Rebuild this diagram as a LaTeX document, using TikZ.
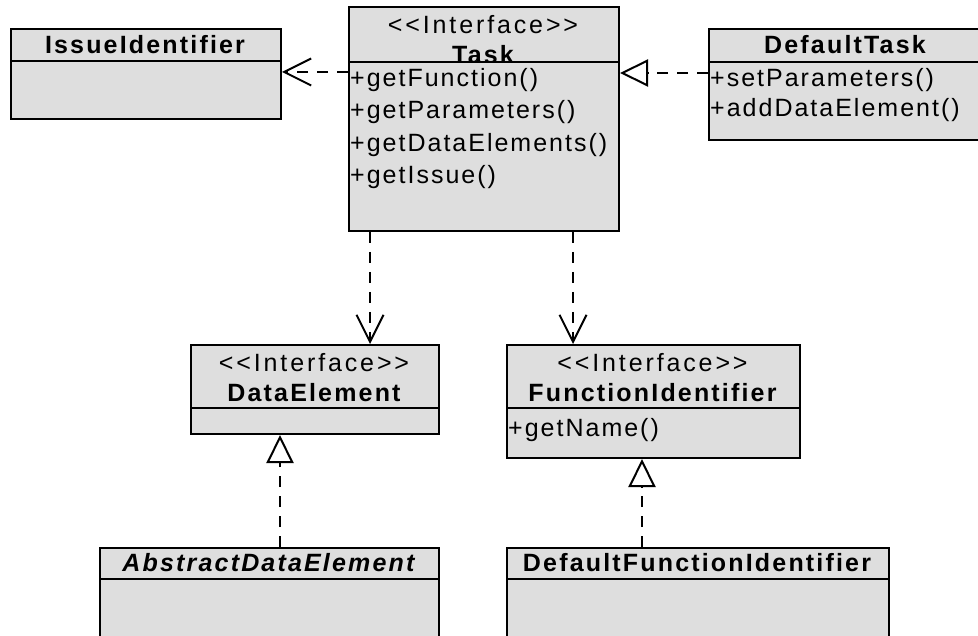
\documentclass[tikz,border=0pt]{standalone}
\usepackage{fontspec}
\newfontfamily\umlfont{Liberation Sans}[LetterSpace=8]
\newfontfamily\umlbold{Liberation Sans}[LetterSpace=8.7]
\newfontfamily\umlster{Liberation Sans}[LetterSpace=11.5]
\usetikzlibrary{arrows.meta}
\definecolor{boxfill}{RGB}{222,222,222}
\tikzset{
 box/.style={draw=black, fill=boxfill, line width=2pt, inner sep=0pt, anchor=north west, rectangle},
 txt/.style={inner sep=0pt, font=\umlfont\fontsize{25}{29}\selectfont},
 ster/.style={inner sep=0pt, font=\umlster\fontsize{25}{29}\selectfont},
 meth/.style={txt, anchor=west},
 ttl/.style={inner sep=0pt, font=\umlbold\bfseries\fontsize{25}{29}\selectfont},
 ittl/.style={inner sep=0pt, font=\umlbold\bfseries\itshape\fontsize{25}{29}\selectfont},
 dep/.style={line width=2pt, dash pattern=on 11pt off 9pt, -{Straight Barb[length=27pt,width=27pt]}},
 real/.style={line width=2pt, dash pattern=on 11pt off 9pt, -{Triangle[open,length=28pt,width=27pt]}},
}
\begin{document}
\begin{tikzpicture}[x=1pt,y=-1pt]
\clip (0,0) rectangle (978,636);
\fill[white] (0,0) rectangle (978,636);
% IssueIdentifier
\node[box, minimum width=270pt, minimum height=32pt] (issueH) at (10,28) {};
\node[ttl] (issueT) at (145,45) {IssueIdentifier};
\node[box, minimum width=270pt, minimum height=58pt] (issueB) at (10,60) {};
% Task
\node[box, minimum width=270pt, minimum height=55pt] (taskH) at (348,6) {};
\node[ster] (taskS) at (483,25) {<<Interface>>};
\node[ttl] (taskT) at (483,55) {Task};
\node[box, minimum width=270pt, minimum height=169pt] (taskB) at (348,61) {};
\node[meth] (tm1) at (350,80) {+getFunction()};
\node[meth] (tm2) at (350,112.5) {+getParameters()};
\node[meth] (tm3) at (350,145) {+getDataElements()};
\node[meth] (tm4) at (350,177) {+getIssue()};
% DefaultTask
\node[box, minimum width=274pt, minimum height=33pt] (dtH) at (708,28) {};
\node[ttl] (dtT) at (845,45) {DefaultTask};
\node[box, minimum width=274pt, minimum height=78pt] (dtB) at (708,61) {};
\node[meth] (dm1) at (710,80) {+setParameters()};
\node[meth] (dm2) at (710,110) {+addDataElement()};
% DataElement
\node[box, minimum width=248pt, minimum height=63pt] (deH) at (190,344) {};
\node[ster] (deS) at (314,363) {<<Interface>>};
\node[ttl] (deT) at (314,393) {DataElement};
\node[box, minimum width=248pt, minimum height=26pt] (deB) at (190,407) {};
% FunctionIdentifier
\node[box, minimum width=293pt, minimum height=63pt] (fiH) at (506,344) {};
\node[ster] (fiS) at (652.5,363) {<<Interface>>};
\node[ttl] (fiT) at (652.5,393) {FunctionIdentifier};
\node[box, minimum width=293pt, minimum height=50pt] (fiB) at (506,407) {};
\node[meth] (fm1) at (508,430) {+getName()};
% AbstractDataElement
\node[box, minimum width=339pt, minimum height=31pt] (adeH) at (99,547) {};
\node[ittl] (adeT) at (268.5,563) {AbstractDataElement};
\node[box, minimum width=339pt, minimum height=100pt] (adeB) at (99,578) {};
% DefaultFunctionIdentifier
\node[box, minimum width=382pt, minimum height=31pt] (dfiH) at (506,547) {};
\node[ttl] (dfiT) at (697,563) {DefaultFunctionIdentifier};
\node[box, minimum width=382pt, minimum height=100pt] (dfiB) at (506,578) {};
% connectors
\coordinate (s1) at ([yshift=-11pt]taskB.north west);
\draw[dep] (s1) -- (issueB.east |- s1);
\coordinate (s2) at ([yshift=-12pt]dtB.north west);
\draw[real] (s2) -- (taskB.east |- s2);
\coordinate (s3) at ([xshift=22pt]taskB.south west);
\draw[dep] (s3) -- (deH.north -| s3);
\coordinate (s4) at ([xshift=225pt]taskB.south west);
\draw[dep] (s4) -- (fiH.north -| s4);
\coordinate (s5) at ([xshift=181pt]adeH.north west);
\draw[real] (s5) -- (deB.south -| s5);
\coordinate (s6) at ([xshift=136pt]dfiH.north west);
\draw[real] (s6) -- (fiB.south -| s6);
\end{tikzpicture}
\end{document}
